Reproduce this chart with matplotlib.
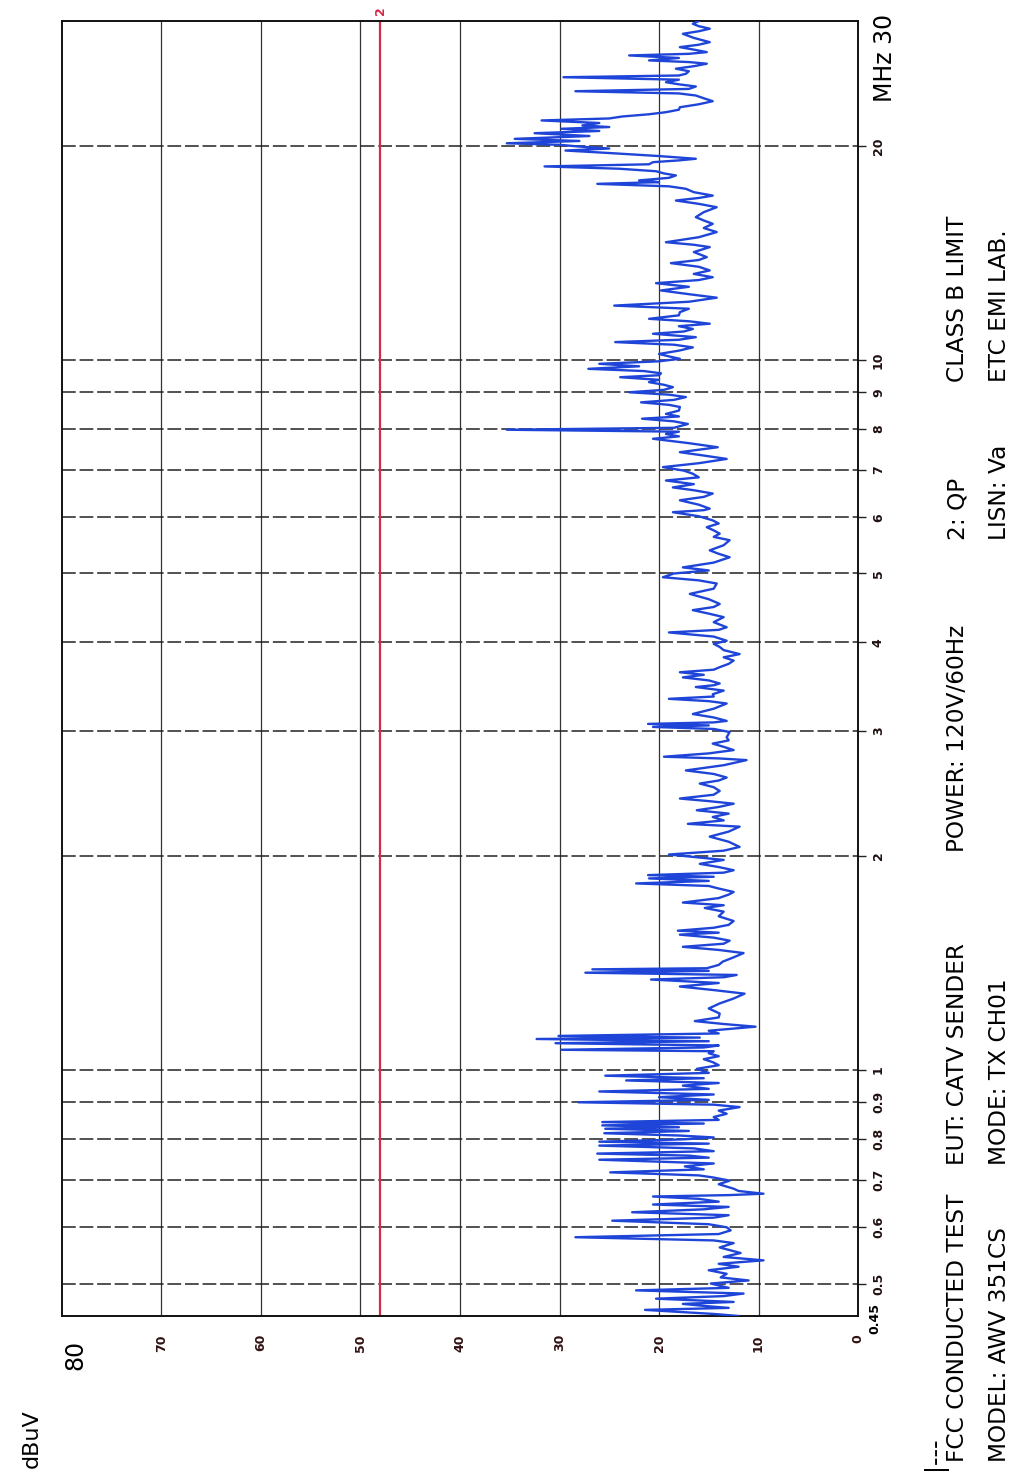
import matplotlib
matplotlib.use("Agg")
import matplotlib.pyplot as plt
from matplotlib import font_manager
from matplotlib.font_manager import FontProperties

# ---------------- data ----------------
freq_mhz = [
    0.450, 0.453, 0.459, 0.462, 0.465, 0.468, 0.471, 0.476, 0.480, 0.484, 0.489, 0.493,
    0.500, 0.505, 0.510, 0.516, 0.522, 0.528, 0.533, 0.539, 0.545, 0.552, 0.562, 0.570,
    0.575, 0.581, 0.587, 0.594, 0.600, 0.606, 0.613, 0.619, 0.624, 0.630, 0.636, 0.641,
    0.646, 0.652, 0.658, 0.663, 0.666, 0.669, 0.675, 0.680, 0.690, 0.698, 0.705, 0.710,
    0.717, 0.724, 0.731, 0.738, 0.747, 0.752, 0.757, 0.762, 0.768, 0.775, 0.782, 0.787,
    0.792, 0.798, 0.803, 0.808, 0.814, 0.820, 0.826, 0.830, 0.835, 0.840, 0.844, 0.850,
    0.858, 0.867, 0.876, 0.886, 0.893, 0.900, 0.907, 0.915, 0.923, 0.932, 0.940, 0.950,
    0.958, 0.966, 0.973, 0.981, 0.990, 1.003, 1.015, 1.025, 1.035, 1.045, 1.055, 1.062,
    1.067, 1.075, 1.082, 1.090, 1.097, 1.105, 1.110, 1.116, 1.125, 1.135, 1.150, 1.160,
    1.171, 1.185, 1.20, 1.22, 1.24, 1.26, 1.28, 1.295, 1.31, 1.325, 1.34, 1.35,
    1.36, 1.37, 1.378, 1.385, 1.39, 1.405, 1.42, 1.44, 1.46, 1.475, 1.49, 1.505,
    1.52, 1.535, 1.55, 1.56, 1.57, 1.585, 1.60, 1.62, 1.645, 1.67, 1.69, 1.705,
    1.72, 1.745, 1.765, 1.78, 1.80, 1.815, 1.83, 1.845, 1.86, 1.87, 1.88, 1.895,
    1.91, 1.93, 1.95, 1.975, 2.01, 2.035, 2.06, 2.095, 2.13, 2.165, 2.20, 2.22,
    2.245, 2.27, 2.295, 2.32, 2.345, 2.37, 2.39, 2.41, 2.44, 2.47, 2.50, 2.53,
    2.555, 2.58, 2.61, 2.64, 2.685, 2.73, 2.745, 2.76, 2.79, 2.82, 2.85, 2.88,
    2.91, 2.94, 2.99, 3.02, 3.04, 3.055, 3.07, 3.085, 3.10, 3.135, 3.17, 3.225,
    3.28, 3.305, 3.33, 3.355, 3.38, 3.42, 3.46, 3.48, 3.50, 3.535, 3.57, 3.60,
    3.63, 3.66, 3.69, 3.73, 3.77, 3.81, 3.85, 3.90, 3.94, 3.98, 4.02, 4.075,
    4.13, 4.165, 4.20, 4.27, 4.34, 4.39, 4.44, 4.485, 4.53, 4.60, 4.68, 4.76,
    4.84, 4.89, 4.94, 5.00, 5.05, 5.10, 5.18, 5.27, 5.33, 5.39, 5.48, 5.57,
    5.63, 5.69, 5.75, 5.81, 5.88, 5.94, 6.02, 6.10, 6.14, 6.17, 6.25, 6.34,
    6.41, 6.48, 6.55, 6.61, 6.68, 6.76, 6.83, 6.91, 6.98, 7.06, 7.15, 7.25,
    7.33, 7.41, 7.47, 7.53, 7.63, 7.74, 7.80, 7.86, 7.92, 7.97, 8.02, 8.12,
    8.19, 8.26, 8.32, 8.39, 8.48, 8.58, 8.64, 8.71, 8.78, 8.86, 8.93, 9.00,
    9.07, 9.15, 9.22, 9.30, 9.37, 9.45, 9.51, 9.57, 9.64, 9.71, 9.79, 9.87,
    9.95, 10.03, 10.11, 10.19, 10.30, 10.41, 10.50, 10.59, 10.67, 10.76, 10.82, 10.88,
    10.96, 11.05, 11.15, 11.24, 11.33, 11.42, 11.55, 11.67, 11.80, 11.92, 12.07, 12.23,
    12.37, 12.52, 12.67, 12.82, 12.95, 13.07, 13.21, 13.36, 13.52, 13.68, 13.82, 13.95,
    14.18, 14.41, 14.52, 14.64, 14.88, 15.13, 15.33, 15.54, 15.71, 15.88, 16.14, 16.40,
    16.58, 16.76, 16.90, 17.03, 17.22, 17.41, 17.55, 17.69, 17.79, 17.89, 18.04, 18.18,
    18.30, 18.43, 18.58, 18.72, 18.85, 18.98, 19.09, 19.19, 19.36, 19.54, 19.62, 19.71,
    19.84, 19.97, 20.08, 20.18, 20.33, 20.47, 20.66, 20.85, 21.00, 21.15, 21.27, 21.38,
    21.55, 21.73, 21.87, 22.01, 22.17, 22.32, 22.50, 22.68, 22.90, 23.13, 23.35, 23.56,
    23.72, 23.89, 24.07, 24.26, 24.43, 24.60, 24.80, 25.00, 25.14, 25.28, 25.49, 25.70,
    25.91, 26.12, 26.26, 26.40, 26.61, 26.83, 26.97, 27.12, 27.34, 27.56, 27.78, 28.01,
    28.40, 28.78, 29.02, 29.26, 29.50, 29.73, 30.00,
]
level_dbuv = [
    12.0, 14.5, 21.4, 13.0, 15.5, 17.6, 12.5, 20.3, 13.5, 11.5, 22.3, 13.0,
    14.8, 11.0, 13.8, 13.2, 15.0, 12.0, 14.0, 9.5, 13.5, 11.8, 13.9, 12.5,
    14.5, 28.4, 14.0, 12.8, 13.2, 15.0, 24.7, 14.5, 13.0, 22.7, 15.5, 13.0,
    20.6, 14.0, 16.0, 20.6, 13.0, 9.5, 12.0, 12.5, 14.0, 12.9, 14.5, 16.0,
    24.9, 15.5, 17.4, 14.5, 26.0, 15.0, 17.0, 26.2, 14.5, 16.5, 26.0, 15.0,
    26.0, 17.5, 14.5, 18.0, 25.5, 17.0, 25.4, 18.0, 25.7, 15.5, 25.7, 14.0,
    14.5, 13.2, 14.0, 11.9, 14.5, 28.1, 15.0, 20.0, 14.5, 26.0, 15.0, 17.6,
    14.0, 23.3, 15.5, 25.4, 15.0, 16.2, 14.0, 14.6, 15.5, 14.0, 15.0, 14.5,
    29.8, 15.5, 14.0, 30.4, 15.0, 32.3, 15.9, 30.1, 14.0, 15.0, 10.3, 13.5,
    16.4, 14.0, 13.9, 15.0, 13.9, 12.5, 11.4, 14.5, 17.9, 14.0, 20.8, 13.5,
    12.2, 27.4, 15.0, 26.7, 15.2, 14.0, 13.6, 12.5, 11.5, 14.0, 17.6, 13.5,
    12.9, 14.5, 17.9, 14.0, 18.1, 14.5, 13.0, 12.5, 14.0, 13.5, 15.4, 13.5,
    17.6, 14.0, 13.0, 12.5, 14.0, 15.0, 22.3, 15.0, 21.0, 14.5, 21.1, 13.5,
    12.5, 14.0, 15.9, 13.5, 19.0, 13.5, 11.9, 13.0, 14.9, 13.0, 11.9, 17.1,
    13.5, 14.6, 13.0, 16.2, 14.0, 12.5, 15.0, 17.9, 14.5, 13.9, 14.5, 15.9,
    14.0, 13.2, 14.5, 17.3, 13.5, 11.2, 14.0, 19.5, 15.0, 12.5, 13.5, 14.6,
    13.0, 13.2, 12.9, 14.5, 20.6, 15.0, 21.1, 14.5, 13.2, 14.5, 16.6, 14.5,
    13.2, 15.0, 19.0, 14.5, 14.6, 13.5, 16.3, 14.5, 13.9, 15.0, 17.6, 15.5,
    17.9, 14.5, 13.9, 13.0, 12.5, 13.5, 11.9, 13.5, 13.9, 14.5, 13.2, 14.5,
    19.0, 14.0, 13.2, 14.5, 13.5, 15.0, 16.6, 14.5, 13.9, 15.0, 16.9, 14.5,
    14.2, 16.0, 19.6, 18.5, 15.0, 17.6, 14.5, 12.9, 14.0, 14.9, 13.5, 12.9,
    14.5, 13.9, 14.5, 15.2, 14.0, 14.6, 16.0, 18.6, 15.5, 14.9, 16.0, 17.9,
    15.5, 14.6, 16.5, 18.6, 16.5, 19.3, 16.0, 16.6, 17.5, 19.6, 16.0, 13.2,
    15.5, 17.9, 16.0, 14.1, 17.0, 20.6, 18.0, 19.3, 18.0, 35.3, 18.5, 17.1,
    18.5, 21.7, 18.0, 19.3, 18.0, 17.9, 19.0, 21.8, 18.5, 17.3, 19.0, 23.0,
    19.5, 18.6, 19.5, 21.0, 20.0, 23.9, 20.0, 19.8, 21.5, 27.1, 22.0, 26.0,
    20.0, 17.9, 19.0, 20.0, 18.0, 16.6, 18.5, 24.4, 18.0, 16.3, 18.5, 20.6,
    17.5, 16.6, 18.0, 14.9, 17.0, 21.0, 18.0, 17.9, 17.0, 24.5, 17.0, 14.2,
    17.0, 19.8, 17.0, 20.3, 16.0, 14.6, 16.5, 14.9, 16.0, 18.8, 16.0, 15.2,
    16.5, 14.9, 16.5, 19.3, 16.0, 14.2, 15.5, 14.6, 15.5, 16.3, 15.5, 14.2,
    16.0, 18.3, 16.0, 14.6, 16.5, 17.3, 19.0, 26.2, 20.0, 22.0, 19.0, 18.3,
    19.5, 20.3, 24.0, 31.5, 21.0, 20.6, 18.0, 16.3, 20.0, 24.7, 27.0, 29.4,
    25.0, 28.1, 30.0, 35.3, 28.0, 34.5, 27.0, 32.5, 26.0, 29.8, 25.0, 27.7,
    26.0, 31.8, 25.0, 23.7, 21.0, 19.3, 18.0, 17.9, 16.0, 14.6, 15.5, 16.3,
    18.0, 28.4, 17.0, 16.3, 18.0, 19.3, 18.0, 29.6, 18.0, 17.3, 17.0, 18.3,
    16.5, 15.2, 17.0, 21.0, 18.0, 23.0, 17.0, 15.2, 16.5, 17.9, 16.0, 14.9,
    16.5, 17.6, 16.0, 14.9, 16.0, 16.6, 16.0,
]
limit_dbuv = 48.0
db_ticks = [0, 10, 20, 30, 40, 50, 60, 70]
freq_ticks = [0.5, 0.6, 0.7, 0.8, 0.9, 1, 2, 3, 4, 5, 6, 7, 8, 9, 10, 20]
freq_tick_labels = ["0.5", "0.6", "0.7", "0.8", "0.9", "1", "2", "3", "4", "5",
                    "6", "7", "8", "9", "10", "20"]

# pick a condensed font if one is installed, otherwise plain DejaVu Sans
FONT = {"family": "DejaVu Sans"}
SCALE = 0.73
try:
    p = font_manager.findfont(FontProperties(family="Liberation Sans Narrow"),
                              fallback_to_default=False)
    if "Narrow" in p:
        FONT = {"family": "Liberation Sans Narrow"}
        SCALE = 1.0
except Exception:
    pass

W, H = 1027, 1483
fig = plt.figure(figsize=(W / 100, H / 100), dpi=100)
fig.patch.set_facecolor("white")

L, R, T, B = 62, 858, 21, 1316
ax = fig.add_axes([L / W, 1 - B / H, (R - L) / W, (B - T) / H])
ax.set_yscale("log")
ax.set_xlim(80, 0)
ax.set_ylim(0.45, 30)

# grid
for d in db_ticks[1:]:
    ax.axvline(d, color="#333333", lw=0.9, zorder=1)
for f in freq_ticks:
    ax.axhline(f, color="#222222", lw=1.1, ls=(0, (9, 2.5)), zorder=1)

for s in ax.spines.values():
    s.set_color("#111111")
    s.set_linewidth(1.4)

# data
ax.plot(level_dbuv, freq_mhz, color="#1f45d8", lw=1.7, zorder=3)
ax.axvline(limit_dbuv, color="#d42a4a", lw=1.6, zorder=2)
ax.text(limit_dbuv, 30.6, "2", color="#d42a4a", fontsize=9, fontweight="bold",
        rotation=90, ha="center", va="bottom", **FONT)

# ticks
ax.set_xticks(db_ticks)
ax.set_xticklabels([str(d) for d in db_ticks], rotation=90, fontsize=9,
                   fontweight="bold", color="#301010", **FONT)
ax.tick_params(axis="x", length=0, pad=13)
ax.yaxis.tick_right()
ax.set_yticks(freq_ticks)
ax.set_yticklabels(freq_tick_labels, rotation=90, fontsize=9, fontweight="bold",
                   va="center", color="#201010", **FONT)
ax.yaxis.set_minor_locator(matplotlib.ticker.NullLocator())
ax.tick_params(axis="y", which="both", length=6, pad=4, direction="out",
               color="#222222", width=1.0)


def ftxt(x, y, s, size, **kw):
    fig.text(x / W, 1 - y / H, s, rotation=90, fontsize=size, **kw)


ftxt(868, 1318, "0.45", 9, ha="left", va="center", fontweight="bold", **FONT)
ftxt(885, 102, "MHz 30", 17, ha="center", va="bottom", **FONT)
ftxt(75, 1355, "80", 17, ha="center", va="center", **FONT)
ftxt(32, 1468, "dBuV", 16, ha="center", va="bottom", **FONT)
ftxt(935, 1470, "|---", 17, ha="center", va="bottom", **FONT)

big = 23 * SCALE
ftxt(958, 1462, "FCC CONDUCTED TEST", big, ha="center", va="bottom", **FONT)
ftxt(1000, 1462, "MODEL: AWV 351CS", big, ha="center", va="bottom", **FONT)
ftxt(958, 1165, "EUT: CATV SENDER", big, ha="center", va="bottom", **FONT)
ftxt(1000, 1165, "MODE: TX CH01", big, ha="center", va="bottom", **FONT)
ftxt(958, 852, "POWER: 120V/60Hz", big, ha="center", va="bottom", **FONT)
ftxt(958, 540, "2: QP", big, ha="center", va="bottom", **FONT)
ftxt(1000, 540, "LISN: Va", big, ha="center", va="bottom", **FONT)
ftxt(958, 382, "CLASS B LIMIT", big, ha="center", va="bottom", **FONT)
ftxt(1000, 382, "ETC EMI LAB.", big, ha="center", va="bottom", **FONT)

fig.savefig("out.png", dpi=100)
